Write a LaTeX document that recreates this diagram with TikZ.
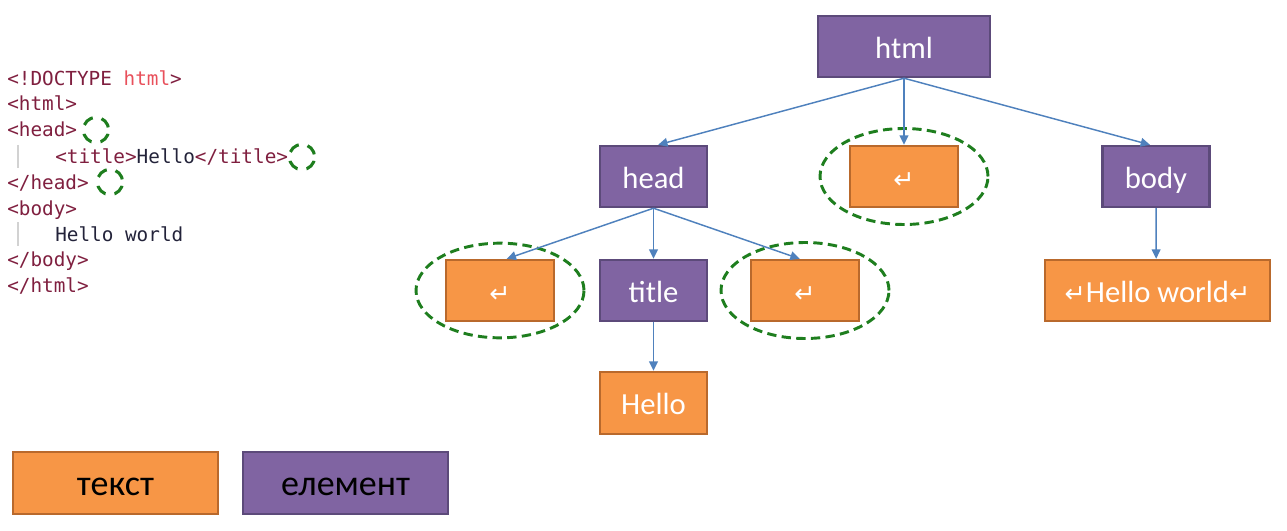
\documentclass[tikz,border=0pt]{standalone}
\usepackage{fontspec}
\setmainfont{Carlito}
\newfontfamily\codefont{DejaVu Sans Mono}
\newfontfamily\arrfont{DejaVu Sans}
\usetikzlibrary{arrows.meta}
\definecolor{purp}{HTML}{8064A2}
\definecolor{purpd}{HTML}{5C4A7A}
\definecolor{oran}{HTML}{F79646}
\definecolor{orand}{HTML}{B9692C}
\definecolor{edgeblue}{HTML}{4F81BD}
\definecolor{ringgreen}{HTML}{1E7E1E}
\definecolor{tagc}{HTML}{7F1F3F}
\definecolor{attrc}{HTML}{E8505B}
\definecolor{plainc}{HTML}{23233A}
\newcommand\retsym{{\arrfont\fontsize{19}{19}\selectfont ↵}}
\newcommand\tg[1]{\textcolor{tagc}{#1}}
\begin{document}
\begin{tikzpicture}[x=0.75pt,y=-0.75pt,
  box/.style={draw, line width=1.8pt, minimum height=45.75pt, inner sep=0pt,
    text height=21.5pt, text depth=4pt,
    font=\fontsize{23}{27}\selectfont, text=white},
  elem/.style={box, fill=purp, draw=purpd},
  txt/.style={box, fill=oran, draw=orand},
  legend/.style={box, minimum width=153.75pt, minimum height=46.5pt,
    text height=23pt, text depth=5pt,
    font=\fontsize{27}{31}\selectfont, text=black},
  ring/.style={draw=ringgreen, dash pattern=on 7pt off 4pt, line width=2.2pt},
  smallring/.style={draw=ringgreen, dash pattern=on 8.5pt off 6.8pt, dash phase=-2pt, line width=2.3pt},
  edge/.style={draw=edgeblue, line width=1.1pt, -{Triangle[length=7pt,width=6.5pt]}},
  code/.style={anchor=base west, inner sep=0pt, text=plainc,
    font=\codefont\fontsize{14.5}{16}\selectfont}
]
\useasboundingbox (0,0) rectangle (1287,531);

% code listing
\node[code] (c1) at (7,86) {\tg{<!DOCTYPE }\textcolor{attrc}{html}\tg{>}};
\node[code] (c2) at (7,111) {\tg{<html>}};
\node[code] (c3) at (7,137) {\tg{<head>}};
\node[code] (c4) at (55,163) {\tg{<title>}Hello\tg{</title>}};
\node[code] (c5) at (7,189) {\tg{</head>}};
\node[code] (c6) at (7,215) {\tg{<body>}};
\node[code] (c7) at (55,241) {Hello world};
\node[code] (c8) at (7,266) {\tg{</body>}};
\node[code] (c9) at (7,292) {\tg{</html>}};
\draw[gray!35, line width=1pt] (18,145) -- (18,168);
\draw[gray!35, line width=1pt] (18,222) -- (18,246);
\coordinate (s1) at (96,130);
\coordinate (s2) at (302,157);
\coordinate (s3) at (110,182);
\draw[smallring] (s1) circle[radius=9.5pt];
\draw[smallring] (s2) circle[radius=9.5pt];
\draw[smallring] (s3) circle[radius=9.5pt];

% tree
\node[elem, minimum width=129pt] (html) at (904,46.5) {html};
\node[elem, minimum width=80.25pt] (head) at (653.5,176.5) {head};
\node[txt, minimum width=81pt] (r1) at (904,176.5) {\retsym};
\node[elem, minimum width=80.25pt] (body) at (1156,176.5) {body};
\node[txt, minimum width=81pt] (r2) at (500,290.5) {\retsym};
\node[elem, minimum width=80.25pt] (title) at (653.5,290.5) {title};
\node[txt, minimum width=81pt] (r3) at (805,290.5) {\retsym};
\node[txt, minimum width=168.75pt] (hw) at (1157.5,290.5) {\retsym Hello world\retsym};
\node[txt, minimum width=80.25pt, minimum height=46.5pt] (hello) at (653.5,403) {Hello};

\draw[ring] (r1.center) ellipse[x radius=63pt, y radius=36pt];
\draw[ring] (r2.center) ellipse[x radius=63pt, y radius=35.5pt];
\draw[ring] (r3.center) ellipse[x radius=63pt, y radius=36pt];

\draw[edge] (html.south) -- ([xshift=3.5pt]head.north);
\draw[edge] (html.south) -- (r1.north);
\draw[edge] (html.south) -- ([xshift=-4.5pt]body.north);
\draw[edge] (head.south) -- ([xshift=5pt]r2.north);
\draw[edge] (head.south) -- (title.north);
\draw[edge] (head.south) -- ([xshift=-4pt]r3.north);
\draw[edge] (body.south) -- ([xshift=-1pt]hw.north);
\draw[edge] (title.south) -- (hello.north);

% legend
\node[legend, fill=oran, draw=orand] (lt) at (115.5,483) {текст};
\node[legend, fill=purp, draw=purpd] (le) at (345.5,483) {елемент};
\end{tikzpicture}
\end{document}
